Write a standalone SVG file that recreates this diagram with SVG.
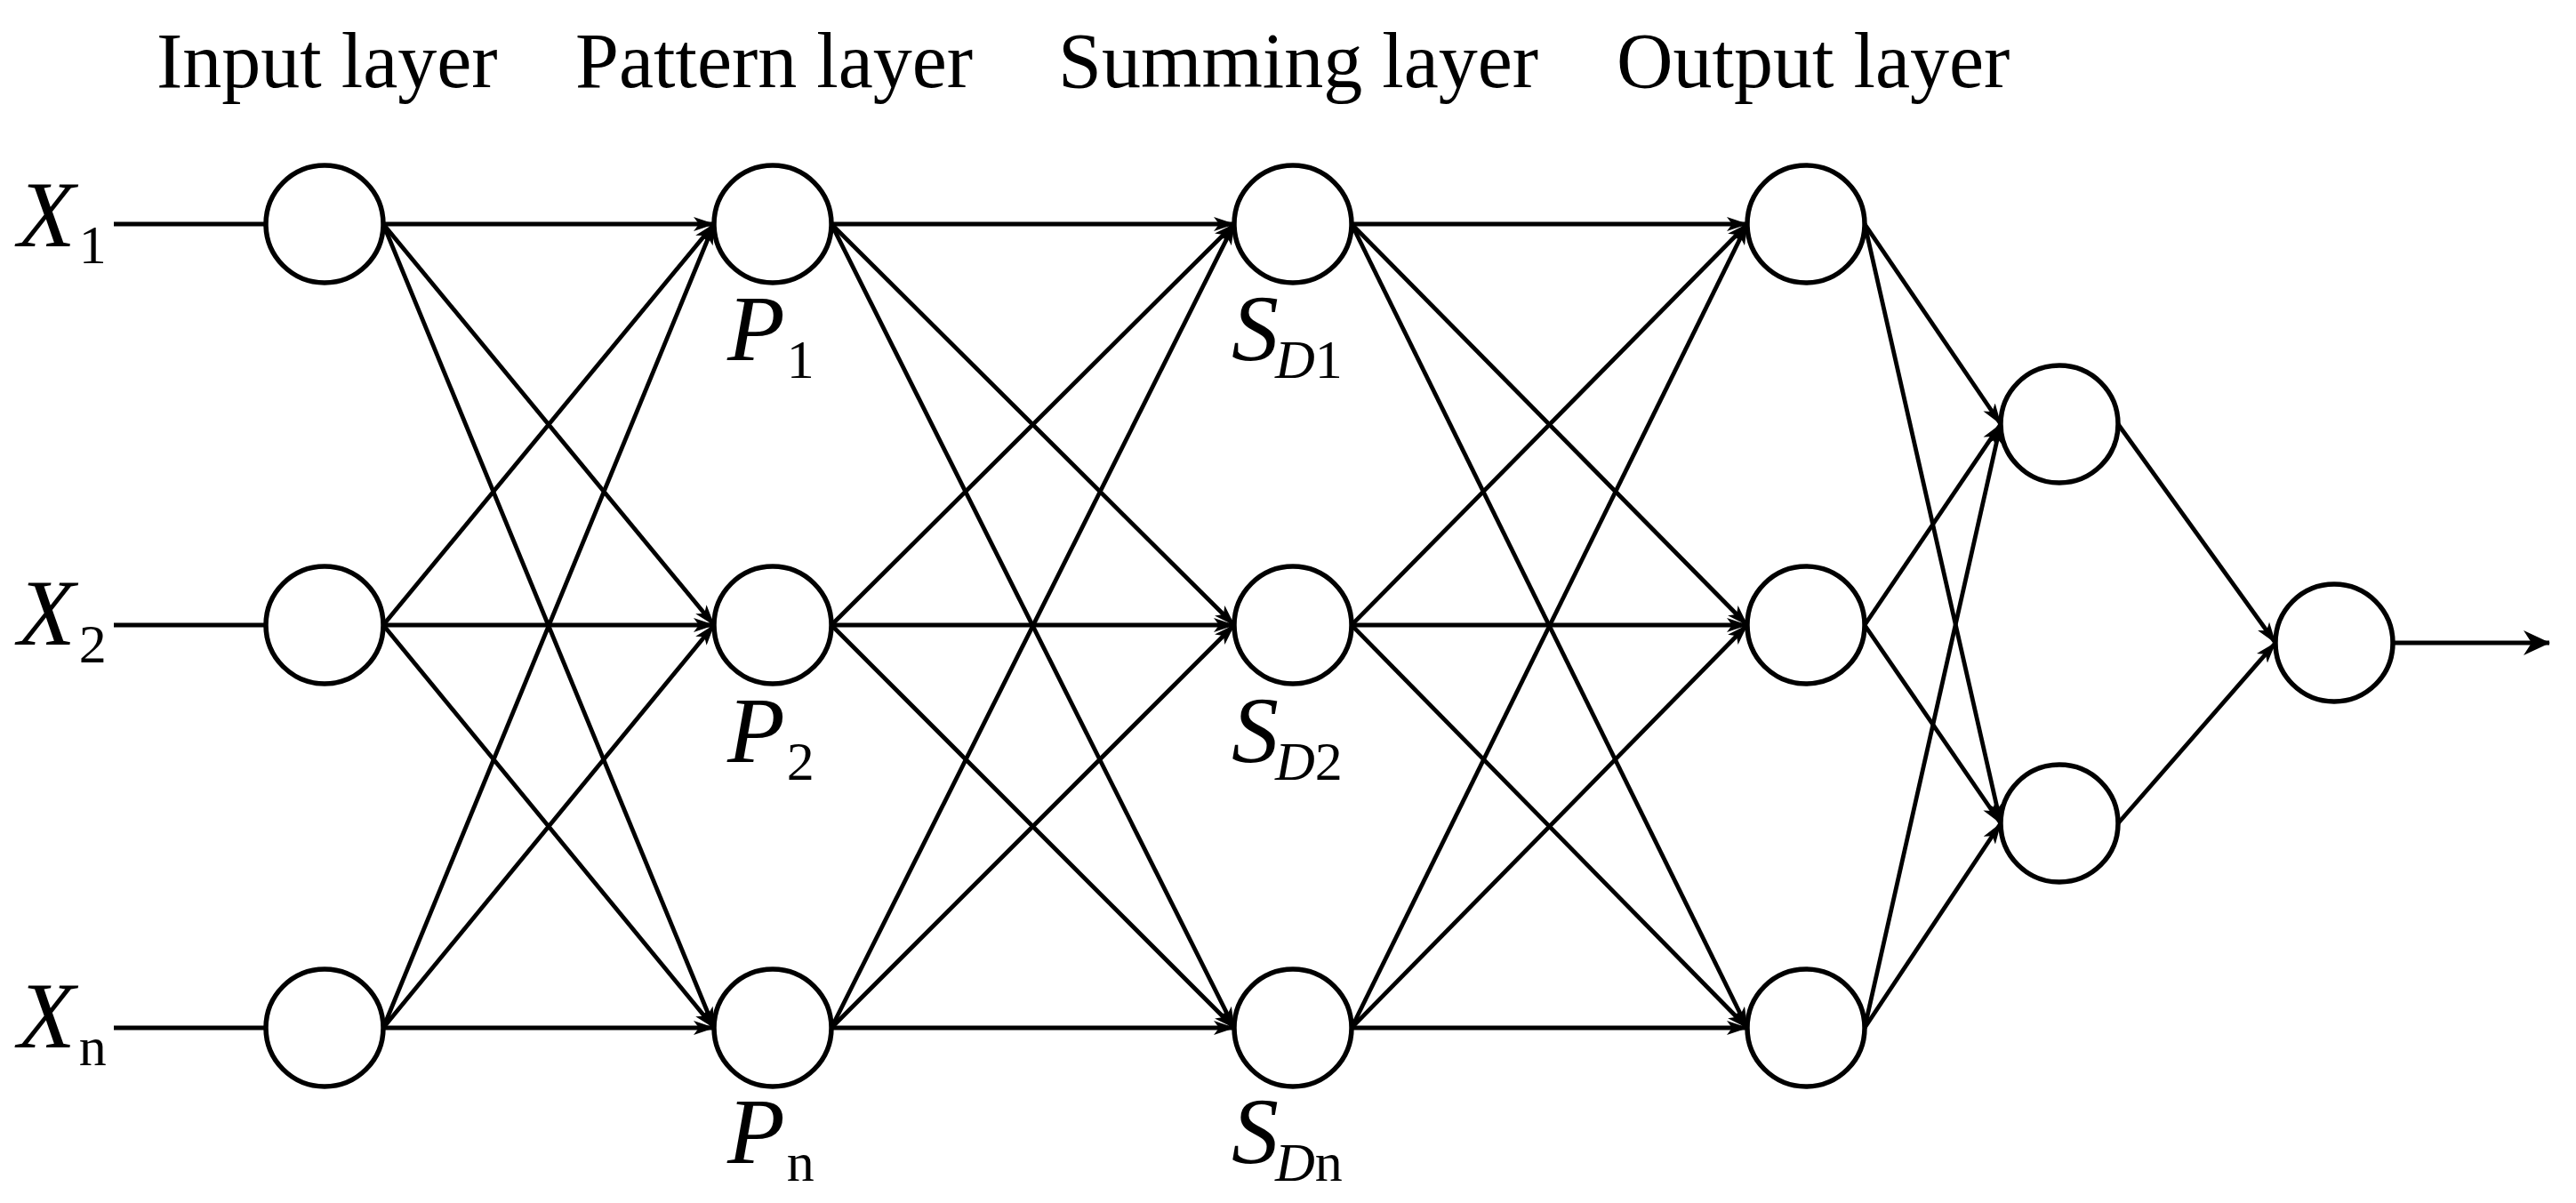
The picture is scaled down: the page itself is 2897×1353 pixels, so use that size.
<svg xmlns="http://www.w3.org/2000/svg" width="2897" height="1353" viewBox="0 0 2897 1353">
<style>
  .node { fill: #ffffff; stroke: #000000; stroke-width: 5.5; }
  .edge { stroke: #000000; stroke-width: 4.8; fill: none; }
  .title { font-family: "Liberation Serif", "Times New Roman", serif; font-size: 88px; fill: #000; }
  .lab { font-family: "Liberation Serif", "Times New Roman", serif; font-size: 106px; fill: #000; font-style: italic; }
  .sub { font-size: 62px; font-style: normal; }
  .subi { font-size: 62px; font-style: italic; }
</style>
<defs>
  <marker id="ah" viewBox="0 0 24 16" refX="23" refY="8" markerWidth="24" markerHeight="16" orient="auto" markerUnits="userSpaceOnUse">
    <path d="M0,0 L24,8 L0,16 L6,8 z" fill="#000"/>
  </marker>
  <marker id="ahout" viewBox="0 0 30 28" refX="29" refY="14" markerWidth="30" markerHeight="28" orient="auto" markerUnits="userSpaceOnUse">
    <path d="M0,0 L30,14 L0,28 L9,14 z" fill="#000"/>
  </marker>
</defs>
<rect width="2897" height="1353" fill="#ffffff"/>

<g id="titles">
  <text class="title" x="176" y="98">Input layer</text>
  <text class="title" x="647" y="98">Pattern layer</text>
  <text class="title" x="1190" y="98">Summing layer</text>
  <text class="title" x="1818" y="98">Output layer</text>
</g>

<g id="connectors">
  <!-- inputs -->
  <line class="edge" x1="128" y1="252" x2="299" y2="252"/>
  <line class="edge" x1="128" y1="703" x2="299" y2="703"/>
  <line class="edge" x1="128" y1="1156" x2="299" y2="1156"/>
  <g marker-end="url(#ah)">
    <!-- input -> pattern -->
    <line class="edge" x1="431" y1="252" x2="803" y2="252"/>
    <line class="edge" x1="431" y1="252" x2="803" y2="703"/>
    <line class="edge" x1="431" y1="252" x2="803" y2="1156"/>
    <line class="edge" x1="431" y1="703" x2="803" y2="252"/>
    <line class="edge" x1="431" y1="703" x2="803" y2="703"/>
    <line class="edge" x1="431" y1="703" x2="803" y2="1156"/>
    <line class="edge" x1="431" y1="1156" x2="803" y2="252"/>
    <line class="edge" x1="431" y1="1156" x2="803" y2="703"/>
    <line class="edge" x1="431" y1="1156" x2="803" y2="1156"/>
    <!-- pattern -> summing -->
    <line class="edge" x1="935" y1="252" x2="1388" y2="252"/>
    <line class="edge" x1="935" y1="252" x2="1388" y2="703"/>
    <line class="edge" x1="935" y1="252" x2="1388" y2="1156"/>
    <line class="edge" x1="935" y1="703" x2="1388" y2="252"/>
    <line class="edge" x1="935" y1="703" x2="1388" y2="703"/>
    <line class="edge" x1="935" y1="703" x2="1388" y2="1156"/>
    <line class="edge" x1="935" y1="1156" x2="1388" y2="252"/>
    <line class="edge" x1="935" y1="1156" x2="1388" y2="703"/>
    <line class="edge" x1="935" y1="1156" x2="1388" y2="1156"/>
    <!-- summing -> output -->
    <line class="edge" x1="1520" y1="252" x2="1965" y2="252"/>
    <line class="edge" x1="1520" y1="252" x2="1965" y2="703"/>
    <line class="edge" x1="1520" y1="252" x2="1965" y2="1156"/>
    <line class="edge" x1="1520" y1="703" x2="1965" y2="252"/>
    <line class="edge" x1="1520" y1="703" x2="1965" y2="703"/>
    <line class="edge" x1="1520" y1="703" x2="1965" y2="1156"/>
    <line class="edge" x1="1520" y1="1156" x2="1965" y2="252"/>
    <line class="edge" x1="1520" y1="1156" x2="1965" y2="703"/>
    <line class="edge" x1="1520" y1="1156" x2="1965" y2="1156"/>
    <!-- output -> pair -->
    <line class="edge" x1="2097" y1="252" x2="2250" y2="477"/>
    <line class="edge" x1="2097" y1="252" x2="2250" y2="926"/>
    <line class="edge" x1="2097" y1="703" x2="2250" y2="477"/>
    <line class="edge" x1="2097" y1="703" x2="2250" y2="926"/>
    <line class="edge" x1="2097" y1="1156" x2="2250" y2="477"/>
    <line class="edge" x1="2097" y1="1156" x2="2250" y2="926"/>
    <!-- pair -> final -->
    <line class="edge" x1="2382" y1="477" x2="2559" y2="723"/>
    <line class="edge" x1="2382" y1="926" x2="2559" y2="723"/>
  </g>
  <line class="edge" x1="2691" y1="723" x2="2867" y2="723" marker-end="url(#ahout)"/>
</g>

<g id="input-1"><circle class="node" cx="365" cy="252" r="66"/></g>
<g id="input-2"><circle class="node" cx="365" cy="703" r="66"/></g>
<g id="input-n"><circle class="node" cx="365" cy="1156" r="66"/></g>
<g id="pattern-1"><circle class="node" cx="869" cy="252" r="66"/></g>
<g id="pattern-2"><circle class="node" cx="869" cy="703" r="66"/></g>
<g id="pattern-n"><circle class="node" cx="869" cy="1156" r="66"/></g>
<g id="sum-1"><circle class="node" cx="1454" cy="252" r="66"/></g>
<g id="sum-2"><circle class="node" cx="1454" cy="703" r="66"/></g>
<g id="sum-n"><circle class="node" cx="1454" cy="1156" r="66"/></g>
<g id="output-1"><circle class="node" cx="2031" cy="252" r="66"/></g>
<g id="output-2"><circle class="node" cx="2031" cy="703" r="66"/></g>
<g id="output-n"><circle class="node" cx="2031" cy="1156" r="66"/></g>
<g id="combine-1"><circle class="node" cx="2316" cy="477" r="66"/></g>
<g id="combine-2"><circle class="node" cx="2316" cy="926" r="66"/></g>
<g id="final"><circle class="node" cx="2625" cy="723" r="66"/></g>

<g id="labels">
  <text class="lab" x="20" y="277">X<tspan class="sub" dx="4" dy="19">1</tspan></text>
  <text class="lab" x="20" y="725">X<tspan class="sub" dx="4" dy="20">2</tspan></text>
  <text class="lab" x="20" y="1178">X<tspan class="sub" dx="4" dy="20">n</tspan></text>
  <text class="lab" x="818" y="405">P<tspan class="sub" dx="2" dy="20">1</tspan></text>
  <text class="lab" x="818" y="857">P<tspan class="sub" dx="2" dy="20">2</tspan></text>
  <text class="lab" x="818" y="1308">P<tspan class="sub" dx="2" dy="20">n</tspan></text>
  <text class="lab" x="1385" y="405">S<tspan class="subi" dx="-4" dy="20">D</tspan><tspan class="sub">1</tspan></text>
  <text class="lab" x="1385" y="857">S<tspan class="subi" dx="-4" dy="20">D</tspan><tspan class="sub">2</tspan></text>
  <text class="lab" x="1385" y="1308">S<tspan class="subi" dx="-4" dy="20">D</tspan><tspan class="sub">n</tspan></text>
</g>
</svg>
